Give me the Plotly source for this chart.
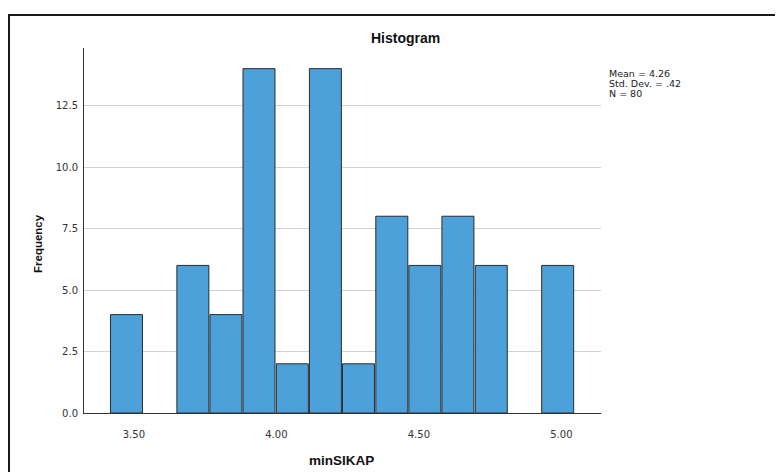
import plotly.graph_objects as go

# ---- data ----
bin_centers = [3.474, 3.707, 3.823, 3.939, 4.056, 4.172, 4.288, 4.405, 4.521, 4.637, 4.754, 4.987]
frequencies = [4, 6, 4, 14, 2, 14, 2, 8, 6, 8, 6, 6]
bin_width = 0.1163
x_tick_vals = [3.5, 4.0, 4.5, 5.0]
x_tick_text = ["3.50", "4.00", "4.50", "5.00"]
y_tick_vals = [0, 2.5, 5.0, 7.5, 10.0, 12.5]
y_tick_text = ["0.0", "2.5", "5.0", "7.5", "10.0", "12.5"]
stats_lines = ["Mean = 4.26", "Std. Dev. = .42", "N = 80"]

OFF = 8  # page body margin
W, H = 783 - OFF, 472 - OFF
L, R, T, B = 84, 601, 48, 413  # plot area in page pixels


def px(x):
    return (x - L) / (R - L)


def py(y):
    return (B - y) / (B - T)


fig = go.Figure()
fig.add_trace(go.Bar(
    x=bin_centers,
    y=frequencies,
    width=[bin_width * 0.965] * len(bin_centers),
    marker=dict(color="#4ca1da", line=dict(color="#2b2b2b", width=1)),
    hoverinfo="x+y",
))

annotations = [
    dict(text="<b>Histogram</b>", x=px(405), y=py(38), xref="paper", yref="paper",
         showarrow=False, xanchor="center", yanchor="middle",
         font=dict(family="Liberation Sans", size=14, color="#111")),
    dict(text="<b>Frequency</b>", x=px(38), y=py(244), xref="paper", yref="paper",
         showarrow=False, xanchor="center", yanchor="middle", textangle=-90,
         font=dict(family="Liberation Sans", size=11.5, color="#111")),
    dict(text="<b>minSIKAP</b>", x=px(341), y=py(461), xref="paper", yref="paper",
         showarrow=False, xanchor="center", yanchor="middle",
         font=dict(family="Liberation Sans", size=13.5, color="#111")),
]
for i, line in enumerate(stats_lines):
    annotations.append(dict(text=line, x=px(607), y=py(73 + 10 * i), xref="paper", yref="paper",
                            showarrow=False, xanchor="left", yanchor="middle",
                            font=dict(family="DejaVu Sans", size=9.5, color="#222")))

fig.update_layout(
    width=W, height=H,
    margin=dict(l=L - OFF, r=W - (R - OFF), t=T - OFF, b=H - (B - OFF), pad=0),
    paper_bgcolor="white", plot_bgcolor="white",
    showlegend=False,
    annotations=annotations,
    shapes=[dict(type="rect", xref="paper", yref="paper",
                 x0=px(9), x1=px(800), y0=py(490), y1=py(15),
                 line=dict(color="#1a1a1a", width=2), layer="above")],
    xaxis=dict(range=[3.325, 5.139], tickvals=x_tick_vals, ticktext=x_tick_text,
               showgrid=False, zeroline=False, showline=True, linecolor="#333", linewidth=1,
               ticks="", ticklabelstandoff=12,
               tickfont=dict(family="DejaVu Sans", size=10, color="#333")),
    yaxis=dict(range=[0, 14.84], tickvals=y_tick_vals, ticktext=y_tick_text,
               showgrid=True, gridcolor="#d2d2d2", gridwidth=1,
               zeroline=False, showline=True, linecolor="#333", linewidth=1,
               ticks="", ticklabelstandoff=3,
               tickfont=dict(family="DejaVu Sans", size=10, color="#333")),
)

fig.write_html("out.html")
